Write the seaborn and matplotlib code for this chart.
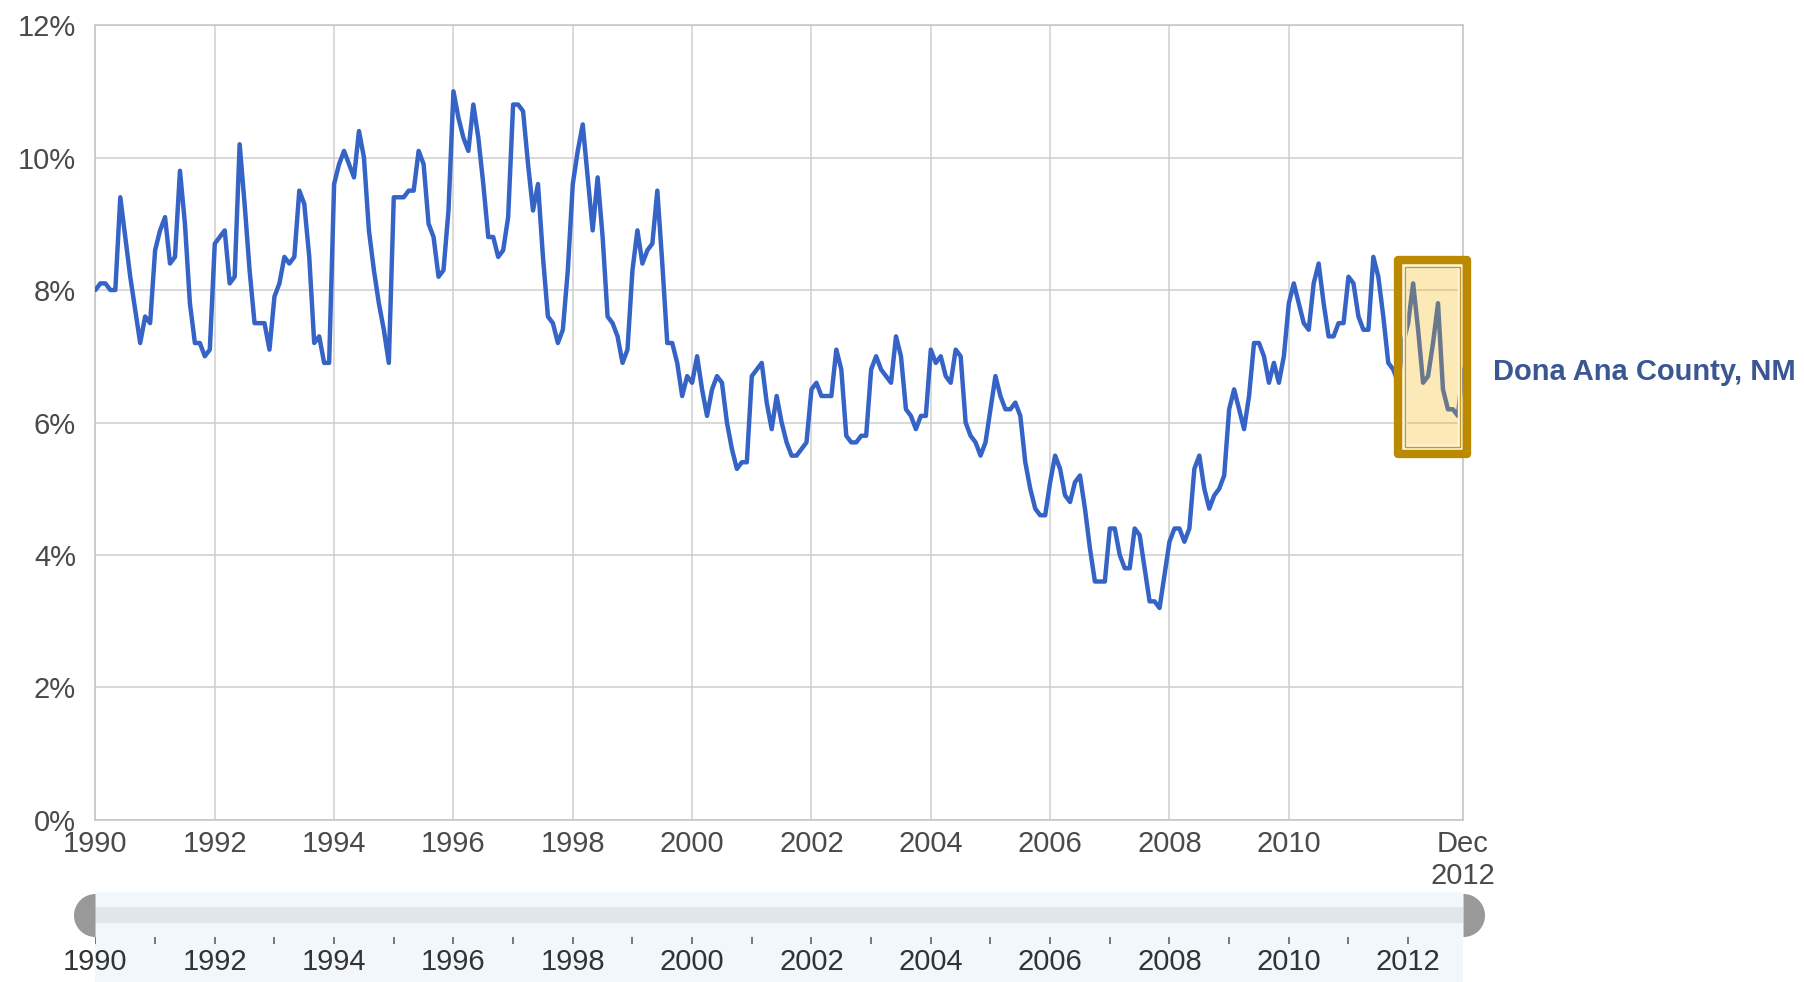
import numpy as np
import pandas as pd
import seaborn as sns
import matplotlib.pyplot as plt
from matplotlib.patches import Rectangle

# monthly unemployment rate, Dona Ana County NM, Jan..Dec of each year
rate_1990 = [8.0, 8.1, 8.1, 8.0, 8.0, 9.4, 8.8, 8.2, 7.7, 7.2, 7.6, 7.5]
rate_1991 = [8.6, 8.9, 9.1, 8.4, 8.5, 9.8, 9.0, 7.8, 7.2, 7.2, 7.0, 7.1]
rate_1992 = [8.7, 8.8, 8.9, 8.1, 8.2, 10.2, 9.3, 8.3, 7.5, 7.5, 7.5, 7.1]
rate_1993 = [7.9, 8.1, 8.5, 8.4, 8.5, 9.5, 9.3, 8.5, 7.2, 7.3, 6.9, 6.9]
rate_1994 = [9.6, 9.9, 10.1, 9.9, 9.7, 10.4, 10.0, 8.9, 8.3, 7.8, 7.4, 6.9]
rate_1995 = [9.4, 9.4, 9.4, 9.5, 9.5, 10.1, 9.9, 9.0, 8.8, 8.2, 8.3, 9.2]
rate_1996 = [11.0, 10.6, 10.3, 10.1, 10.8, 10.3, 9.6, 8.8, 8.8, 8.5, 8.6, 9.1]
rate_1997 = [10.8, 10.8, 10.7, 9.9, 9.2, 9.6, 8.5, 7.6, 7.5, 7.2, 7.4, 8.3]
rate_1998 = [9.6, 10.1, 10.5, 9.7, 8.9, 9.7, 8.8, 7.6, 7.5, 7.3, 6.9, 7.1]
rate_1999 = [8.3, 8.9, 8.4, 8.6, 8.7, 9.5, 8.4, 7.2, 7.2, 6.9, 6.4, 6.7]
rate_2000 = [6.6, 7.0, 6.5, 6.1, 6.5, 6.7, 6.6, 6.0, 5.6, 5.3, 5.4, 5.4]
rate_2001 = [6.7, 6.8, 6.9, 6.3, 5.9, 6.4, 6.0, 5.7, 5.5, 5.5, 5.6, 5.7]
rate_2002 = [6.5, 6.6, 6.4, 6.4, 6.4, 7.1, 6.8, 5.8, 5.7, 5.7, 5.8, 5.8]
rate_2003 = [6.8, 7.0, 6.8, 6.7, 6.6, 7.3, 7.0, 6.2, 6.1, 5.9, 6.1, 6.1]
rate_2004 = [7.1, 6.9, 7.0, 6.7, 6.6, 7.1, 7.0, 6.0, 5.8, 5.7, 5.5, 5.7]
rate_2005 = [6.2, 6.7, 6.4, 6.2, 6.2, 6.3, 6.1, 5.4, 5.0, 4.7, 4.6, 4.6]
rate_2006 = [5.1, 5.5, 5.3, 4.9, 4.8, 5.1, 5.2, 4.7, 4.1, 3.6, 3.6, 3.6]
rate_2007 = [4.4, 4.4, 4.0, 3.8, 3.8, 4.4, 4.3, 3.8, 3.3, 3.3, 3.2, 3.7]
rate_2008 = [4.2, 4.4, 4.4, 4.2, 4.4, 5.3, 5.5, 5.0, 4.7, 4.9, 5.0, 5.2]
rate_2009 = [6.2, 6.5, 6.2, 5.9, 6.4, 7.2, 7.2, 7.0, 6.6, 6.9, 6.6, 7.0]
rate_2010 = [7.8, 8.1, 7.8, 7.5, 7.4, 8.1, 8.4, 7.8, 7.3, 7.3, 7.5, 7.5]
rate_2011 = [8.2, 8.1, 7.6, 7.4, 7.4, 8.5, 8.2, 7.6, 6.9, 6.8, 6.6, 7.2]
rate_2012 = [7.5, 8.1, 7.4, 6.6, 6.7, 7.2, 7.8, 6.5, 6.2, 6.2, 6.1, 6.8]

series_name = "Dona Ana County, NM"
y_ticks = [0, 2, 4, 6, 8, 10, 12]
y_tick_labels = ["0%", "2%", "4%", "6%", "8%", "10%", "12%"]
x_tick_labels = ["1990", "1992", "1994", "1996", "1998", "2000",
                 "2002", "2004", "2006", "2008", "2010", "Dec\n2012"]
slider_labels = ["1990", "1992", "1994", "1996", "1998", "2000",
                 "2002", "2004", "2006", "2008", "2010", "2012"]

rates = (rate_1990 + rate_1991 + rate_1992 + rate_1993 + rate_1994 + rate_1995
         + rate_1996 + rate_1997 + rate_1998 + rate_1999 + rate_2000 + rate_2001
         + rate_2002 + rate_2003 + rate_2004 + rate_2005 + rate_2006 + rate_2007
         + rate_2008 + rate_2009 + rate_2010 + rate_2011 + rate_2012)
dates = pd.date_range("1990-01-01", periods=len(rates), freq="MS")
df = pd.DataFrame({"year": dates.year + (dates.month - 1) / 12, "rate": rates})

x0, x1 = df["year"].iloc[0], df["year"].iloc[-1]
x_ticks = [int(s) for s in x_tick_labels[:-1]] + [x1]

sns.set_theme(style="white")
plt.rcParams["font.family"] = ["Liberation Sans", "DejaVu Sans"]

fig = plt.figure(figsize=(18.04, 9.82), dpi=100)
ax = fig.add_axes([0.0529, 0.165, 0.758, 0.8095])

sns.lineplot(data=df, x="year", y="rate", ax=ax, color="#3563c6", lw=3.2, zorder=3)

ax.set_xlim(x0, x1)
ax.set_ylim(0, 12)
ax.set_yticks(y_ticks)
ax.set_yticklabels(y_tick_labels)
ax.set_xticks(x_ticks)
ax.set_xticklabels(x_tick_labels, linespacing=1.2)
ax.set_xlabel("")
ax.set_ylabel("")
ax.grid(True, color="#cfcfcf", lw=1.1)
ax.set_axisbelow(True)
for s in ax.spines.values():
    s.set_color("#c4c4c4")
    s.set_linewidth(1.1)
ax.tick_params(axis="y", length=0, pad=14, labelsize=21, labelcolor="#4a4a4a")
ax.tick_params(axis="x", length=0, pad=7, labelsize=21, labelcolor="#4a4a4a")

# highlight box on the last months
px_x = (x1 - x0) / (0.758 * 1804)
px_y = 12 / (0.8095 * 982)
bx0, bx1 = 2011.83, x1 + 4 * px_x
by0, by1 = 5.52, 8.45
ax.add_patch(Rectangle((bx0, by0), bx1 - bx0, by1 - by0, fc=(0.97, 0.69, 0.0, 0.28),
                       ec="#bb8a00", lw=6, joinstyle="round", zorder=4, clip_on=False))
ins = 7
ax.add_patch(Rectangle((bx0 + ins * px_x, by0 + ins * px_y),
                       bx1 - bx0 - 2 * ins * px_x, by1 - by0 - 2 * ins * px_y,
                       fc="none", ec="#fff4dc", lw=3.2, zorder=5, clip_on=False))
ax.add_patch(Rectangle((bx0 + ins * px_x, by0 + ins * px_y),
                       bx1 - bx0 - 2 * ins * px_x, by1 - by0 - 2 * ins * px_y,
                       fc="none", ec="#c89a20", lw=1.0, zorder=6, clip_on=False))

ax.annotate(series_name, xy=(x1, 6.76), xytext=(22, 0), textcoords="offset points",
            ha="left", va="center", fontsize=21, fontweight="bold",
            color="#3a5693", annotation_clip=False)

# range slider under the chart
ax2 = fig.add_axes([0.0529, 0.0, 0.758, 90 / 982])
ax2.set_xlim(x0, x1)
ax2.set_ylim(0, 90)
ax2.axis("off")
ax2.add_patch(Rectangle((x0, 0), x1 - x0 + 3 * px_x, 90, fc="#f1f7fa", ec="none"))
ax2.fill_between([x0, x1], 59, 75, color="#e0e6ea", lw=0)
ax2.plot([x0], [67], marker="o", ms=31, fillstyle="left", mfc="#999999",
         mfcalt="none", mew=0, clip_on=False)
ax2.plot([x1], [67], marker="o", ms=31, fillstyle="right", mfc="#999999",
         mfcalt="none", mew=0, clip_on=False)
ax2.vlines([x1 + 3 * px_x], 0, 59, color="#c0c0c0", lw=1)
ax2.vlines(np.arange(1990, 2013), 38, 45, color="#555555", lw=1.1)
for lab in slider_labels:
    ax2.text(int(lab), 20, lab, ha="center", va="center", fontsize=21, color="#333333")

fig.savefig("out.png", dpi=100)
